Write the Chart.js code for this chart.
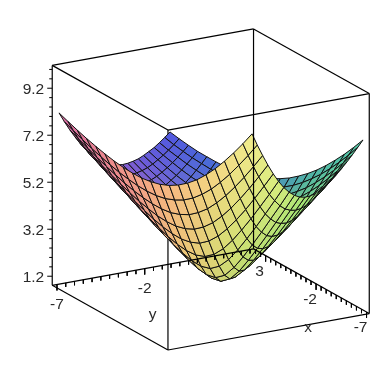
<!DOCTYPE html>
<html>
<head>
<meta charset="utf-8">
<style>
html, body { margin: 0; padding: 0; background: #fff; }
#wrap { position: relative; width: 384px; height: 384px; }
</style>
<script src="https://cdn.jsdelivr.net/npm/chart.js@4"></script>
</head>
<body>
<div id="wrap"><canvas id="surface" width="384" height="384"></canvas></div>
<script>
// Grid positions of the mesh lines
const xValues = [-7, -6.48, -5.95, -5.43, -4.9, -4.38, -3.86, -3.33, -2.81, -2.29, -1.76, -1.24, -0.71, -0.19, 0.33, 0.86, 1.38, 1.9, 2.43, 2.95, 3.48, 4];
const yValues = [-7, -6.48, -5.95, -5.43, -4.9, -4.38, -3.86, -3.33, -2.81, -2.29, -1.76, -1.24, -0.71, -0.19, 0.33, 0.86, 1.38, 1.9, 2.43, 2.95, 3.48, 4];

// Surface heights, one row per x. Estimated: corners and bowl bottom, the rest from a bowl fitted to them
const zValues = [
    [9.95, 9.59, 9.24, 8.91, 8.61, 8.32, 8.05, 7.82, 7.61, 7.43, 7.29, 7.18, 7.11, 7.07, 7.08, 7.12, 7.20, 7.32, 7.48, 7.66, 7.88, 8.12],
    [9.59, 9.21, 8.85, 8.51, 8.19, 7.88, 7.60, 7.35, 7.13, 6.94, 6.79, 6.67, 6.59, 6.56, 6.56, 6.61, 6.70, 6.82, 6.99, 7.19, 7.42, 7.68],
    [9.24, 8.85, 8.48, 8.12, 7.78, 7.46, 7.16, 6.89, 6.66, 6.45, 6.29, 6.16, 6.08, 6.04, 6.04, 6.10, 6.19, 6.33, 6.51, 6.72, 6.96, 7.24],
    [8.91, 8.51, 8.12, 7.74, 7.38, 7.05, 6.73, 6.45, 6.19, 5.97, 5.79, 5.66, 5.57, 5.52, 5.53, 5.59, 5.69, 5.84, 6.03, 6.26, 6.52, 6.82],
    [8.61, 8.19, 7.78, 7.38, 7.01, 6.65, 6.32, 6.01, 5.74, 5.50, 5.31, 5.16, 5.06, 5.01, 5.02, 5.08, 5.19, 5.36, 5.56, 5.81, 6.09, 6.41],
    [8.32, 7.88, 7.46, 7.05, 6.65, 6.28, 5.92, 5.59, 5.30, 5.04, 4.83, 4.66, 4.55, 4.50, 4.51, 4.57, 4.70, 4.88, 5.11, 5.38, 5.68, 6.02],
    [8.05, 7.60, 7.16, 6.73, 6.32, 5.92, 5.55, 5.20, 4.88, 4.59, 4.36, 4.17, 4.05, 3.99, 4.00, 4.08, 4.22, 4.42, 4.67, 4.96, 5.29, 5.65],
    [7.82, 7.35, 6.89, 6.45, 6.01, 5.59, 5.20, 4.82, 4.47, 4.16, 3.90, 3.69, 3.55, 3.49, 3.50, 3.58, 3.74, 3.97, 4.24, 4.56, 4.92, 5.30],
    [7.61, 7.13, 6.66, 6.19, 5.74, 5.30, 4.88, 4.47, 4.10, 3.76, 3.46, 3.23, 3.07, 2.99, 3.00, 3.10, 3.29, 3.54, 3.85, 4.20, 4.58, 4.99],
    [7.43, 6.94, 6.45, 5.97, 5.50, 5.04, 4.59, 4.16, 3.76, 3.38, 3.05, 2.78, 2.59, 2.50, 2.52, 2.64, 2.85, 3.14, 3.48, 3.87, 4.28, 4.71],
    [7.29, 6.79, 6.29, 5.79, 5.31, 4.83, 4.36, 3.90, 3.46, 3.05, 2.68, 2.37, 2.15, 2.03, 2.05, 2.20, 2.45, 2.78, 3.16, 3.58, 4.02, 4.48],
    [7.18, 6.67, 6.16, 5.66, 5.16, 4.66, 4.17, 3.69, 3.23, 2.78, 2.37, 2.01, 1.74, 1.60, 1.62, 1.81, 2.11, 2.48, 2.90, 3.35, 3.82, 4.30],
    [7.11, 6.59, 6.08, 5.57, 5.06, 4.55, 4.05, 3.55, 3.07, 2.59, 2.15, 1.74, 1.42, 1.24, 1.27, 1.50, 1.85, 2.27, 2.72, 3.20, 3.69, 4.18],
    [7.07, 6.56, 6.04, 5.52, 5.01, 4.50, 3.99, 3.49, 2.99, 2.50, 2.03, 1.60, 1.24, 1.04, 1.07, 1.33, 1.72, 2.16, 2.63, 3.12, 3.62, 4.13],
    [7.08, 6.56, 6.04, 5.53, 5.02, 4.51, 4.00, 3.50, 3.00, 2.52, 2.05, 1.62, 1.27, 1.07, 1.10, 1.36, 1.74, 2.18, 2.65, 3.14, 3.63, 4.14],
    [7.12, 6.61, 6.10, 5.59, 5.08, 4.57, 4.08, 3.58, 3.10, 2.64, 2.20, 1.81, 1.50, 1.33, 1.36, 1.57, 1.91, 2.32, 2.76, 3.23, 3.72, 4.21],
    [7.20, 6.70, 6.19, 5.69, 5.19, 4.70, 4.22, 3.74, 3.29, 2.85, 2.45, 2.11, 1.85, 1.72, 1.74, 1.91, 2.20, 2.56, 2.97, 3.41, 3.87, 4.35],
    [7.32, 6.82, 6.33, 5.84, 5.36, 4.88, 4.42, 3.97, 3.54, 3.14, 2.78, 2.48, 2.27, 2.16, 2.18, 2.32, 2.56, 2.87, 3.24, 3.65, 4.09, 4.54],
    [7.48, 6.99, 6.51, 6.03, 5.56, 5.11, 4.67, 4.24, 3.85, 3.48, 3.16, 2.90, 2.72, 2.63, 2.65, 2.76, 2.97, 3.24, 3.58, 3.95, 4.36, 4.79],
    [7.66, 7.19, 6.72, 6.26, 5.81, 5.38, 4.96, 4.56, 4.20, 3.87, 3.58, 3.35, 3.20, 3.12, 3.14, 3.23, 3.41, 3.65, 3.95, 4.29, 4.67, 5.07],
    [7.88, 7.42, 6.96, 6.52, 6.09, 5.68, 5.29, 4.92, 4.58, 4.28, 4.02, 3.82, 3.69, 3.62, 3.63, 3.72, 3.87, 4.09, 4.36, 4.67, 5.02, 5.39],
    [8.12, 7.68, 7.24, 6.82, 6.41, 6.02, 5.65, 5.30, 4.99, 4.71, 4.48, 4.30, 4.18, 4.13, 4.14, 4.21, 4.35, 4.54, 4.79, 5.07, 5.39, 5.74]
];

// Axis ticks and labels
const xTicks = [-7, -6.5, -6, -5.5, -5, -4.5, -4, -3.5, -3, -2.5, -2, -1.5, -1, -0.5, 0, 0.5, 1, 1.5, 2, 2.5, 3, 3.5, 4];
const yTicks = [-7, -6.5, -6, -5.5, -5, -4.5, -4, -3.5, -3, -2.5, -2, -1.5, -1, -0.5, 0, 0.5, 1, 1.5, 2, 2.5, 3, 3.5, 4];
const zTicks = [1.2, 1.6, 2, 2.4, 2.8, 3.2, 3.6, 4, 4.4, 4.8, 5.2, 5.6, 6, 6.4, 6.8, 7.2, 7.6, 8, 8.4, 8.8, 9.2, 9.6, 10];
const xTickLabels = [3, -2, -7];
const yTickLabels = [-7, -2];
const zTickLabels = [1.2, 3.2, 5.2, 7.2, 9.2];

// Box limits
const boxX = [-7.27, 4.2];
const boxY = [-7.27, 4.2];
const boxZ = [0.77, 10.13];

// Colour control points, rows go along y, columns along x
const colorTable = [
    [[82, 88, 224], [105, 90, 218], [140, 90, 205], [190, 98, 178], [215, 105, 160]],
    [[70, 110, 215], [110, 115, 210], [175, 125, 170], [228, 132, 148], [238, 140, 140]],
    [[70, 140, 190], [120, 155, 150], [196, 208, 112], [238, 196, 120], [247, 175, 130]],
    [[75, 180, 168], [130, 205, 130], [172, 218, 112], [212, 224, 116], [246, 208, 130]],
    [[80, 200, 170], [125, 218, 140], [162, 228, 116], [215, 236, 126], [242, 238, 142]]
];

// View: how one data unit lands on the 384 x 384 plot
const view = { u0: 222.2, ux: -10.09, uy: 17.55, v0: 304, vx: -5.64, vy: -3.18, vz: -23.5 };

function project(x, y, z, du = 0, dv = 0) {
    return {
        x: view.u0 + view.ux * x + view.uy * y + du,
        y: view.v0 + view.vx * x + view.vy * y + view.vz * z + dv
    };
}

function cellColor(fx, fy) {
    const gx = Math.min(fx * 4, 3.999), gy = Math.min(fy * 4, 3.999);
    const ix = Math.floor(gx), iy = Math.floor(gy);
    const tx = gx - ix, ty = gy - iy;
    const rgb = [0, 1, 2].map(k => Math.round(
        colorTable[iy][ix][k] * (1 - tx) * (1 - ty) + colorTable[iy][ix + 1][k] * tx * (1 - ty) +
        colorTable[iy + 1][ix][k] * (1 - tx) * ty + colorTable[iy + 1][ix + 1][k] * tx * ty
    ));
    return `rgb(${rgb[0]},${rgb[1]},${rgb[2]})`;
}

function lineSet(points, width = 1) {
    return { data: points, showLine: true, borderColor: '#000', borderWidth: width, pointRadius: 0, fill: false, tension: 0 };
}

function boxEdge(a, b) {
    return lineSet([project(a[0], a[1], a[2]), project(b[0], b[1], b[2])], 1.2);
}

// Chart.js paints the last dataset first, so things are pushed far to near and reversed at the end
const paintOrder = [];
const [x0, x1] = boxX, [y0, y1] = boxY, [z0, z1] = boxZ;

// Far part of the box, behind the surface
paintOrder.push(boxEdge([x0, y0, z0], [x1, y0, z0]));
paintOrder.push(boxEdge([x0, y0, z0], [x0, y1, z0]));
paintOrder.push(boxEdge([x0, y0, z0], [x0, y0, z1]));

// Mesh cells, swept from the far corner to the near one
for (let i = 0; i < xValues.length - 1; i++) {
    for (let j = 0; j < yValues.length - 1; j++) {
        const corners = [
            project(xValues[i], yValues[j], zValues[i][j]),
            project(xValues[i + 1], yValues[j], zValues[i + 1][j]),
            project(xValues[i + 1], yValues[j + 1], zValues[i + 1][j + 1]),
            project(xValues[i], yValues[j + 1], zValues[i][j + 1])
        ];
        corners.push(corners[0]);
        paintOrder.push({
            data: corners,
            showLine: true,
            borderColor: '#111',
            borderWidth: 1,
            pointRadius: 0,
            tension: 0,
            fill: 'shape',
            backgroundColor: cellColor((i + 0.5) / (xValues.length - 1), (j + 0.5) / (yValues.length - 1))
        });
    }
}

// Rest of the box, in front of the surface or clear of it
paintOrder.push(boxEdge([x1, y0, z0], [x1, y1, z0]));
paintOrder.push(boxEdge([x1, y1, z0], [x0, y1, z0]));
paintOrder.push(boxEdge([x1, y1, z0], [x1, y1, z1]));
paintOrder.push(boxEdge([x1, y0, z0], [x1, y0, z1]));
paintOrder.push(boxEdge([x0, y1, z0], [x0, y1, z1]));
paintOrder.push(boxEdge([x1, y0, z1], [x1, y1, z1]));
paintOrder.push(boxEdge([x1, y1, z1], [x0, y1, z1]));
paintOrder.push(boxEdge([x0, y1, z1], [x0, y0, z1]));
paintOrder.push(boxEdge([x0, y0, z1], [x1, y0, z1]));

// Tick marks
xTicks.forEach(t => {
    paintOrder.push(lineSet([project(t, y1, z0), project(t, y1, z0, 0, xTickLabels.includes(t) ? 6 : 4)]));
});
yTicks.forEach(t => {
    paintOrder.push(lineSet([project(x1, t, z0), project(x1, t, z0, 0, yTickLabels.includes(t) ? 6 : 4)]));
});
zTicks.forEach(t => {
    paintOrder.push(lineSet([project(x1, y0, t, 0, 1), project(x1, y0, t, zTickLabels.includes(t) ? -5 : -3, 1)]));
});

const axisText = {
    id: 'axisText',
    afterDraw(chart) {
        const { ctx, scales } = chart;
        const put = (text, p) => {
            ctx.fillText(String(text), scales.x.getPixelForValue(p.x), scales.y.getPixelForValue(p.y));
        };
        ctx.save();
        ctx.font = '15.5px "Liberation Sans"';
        ctx.fillStyle = '#2a2a2a';
        ctx.textBaseline = 'middle';
        ctx.textAlign = 'center';
        xTickLabels.forEach(t => put(t, project(t, y1, z0, -6, 16)));
        yTickLabels.forEach(t => put(t, project(x1, t, z0, 0, 20)));
        put('x', project(-2, y1, z0, -8, 44));
        put('y', project(x1, -2, z0, 8, 46));
        ctx.textAlign = 'right';
        zTickLabels.forEach(t => put(t, project(x1, y0, t, -8, 2)));
        ctx.restore();
    }
};

new Chart(document.getElementById('surface').getContext('2d'), {
    type: 'scatter',
    data: { datasets: paintOrder.reverse() },
    options: {
        responsive: false,
        animation: false,
        events: [],
        layout: { padding: 0 },
        plugins: { legend: { display: false }, tooltip: { enabled: false } },
        scales: {
            x: { type: 'linear', min: 0, max: 384, display: false },
            y: { type: 'linear', min: 0, max: 384, reverse: true, display: false }
        }
    },
    plugins: [axisText]
});
</script>
</body>
</html>
